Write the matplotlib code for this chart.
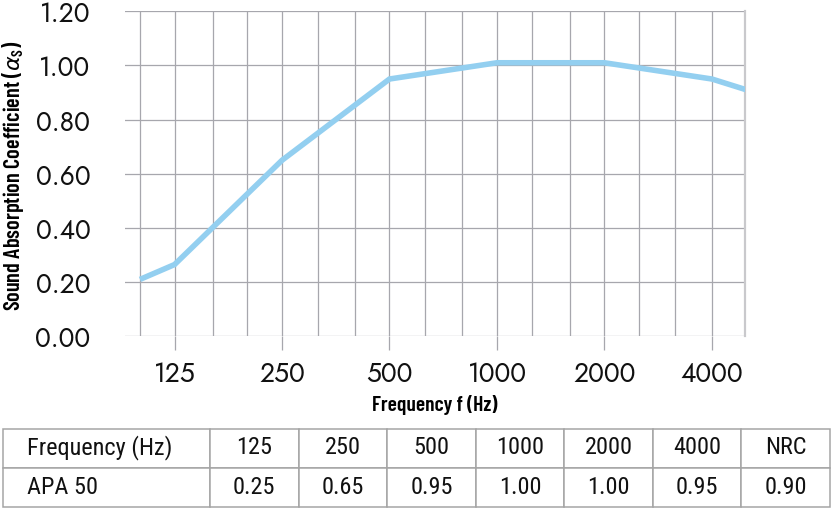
import matplotlib
matplotlib.use("Agg")
import matplotlib.pyplot as plt
from matplotlib.ticker import FixedLocator, NullFormatter
import logging
logging.getLogger("matplotlib.font_manager").setLevel(logging.ERROR)

# ---- data ----
freqs = [100, 125, 250, 500, 1000, 2000, 4000, 5000]
alpha = [0.21, 0.265, 0.65, 0.95, 1.01, 1.01, 0.95, 0.91]
major_ticks = [125, 250, 500, 1000, 2000, 4000]
minor_ticks = [100, 160, 200, 315, 400, 630, 800, 1250, 1600, 2500, 3150]
y_ticks = [0.0, 0.2, 0.4, 0.6, 0.8, 1.0, 1.2]

table_header = ["Frequency (Hz)", "125", "250", "500", "1000", "2000", "4000", "NRC"]
table_row = ["APA 50", "0.25", "0.65", "0.95", "1.00", "1.00", "0.95", "0.90"]

W, H = 831, 509
fig = plt.figure(figsize=(W / 100, H / 100), dpi=100)

ax = fig.add_axes([125 / W, 1 - 336.3 / H, (745 - 125) / W, (336.3 - 11.3) / H])
ax.set_xscale("log")
ax.set_xlim(90.8, 4952)
ax.set_ylim(0, 1.2)

grid_c = "#a7a7ad"
ax.xaxis.set_major_locator(FixedLocator(major_ticks))
ax.xaxis.set_minor_locator(FixedLocator(minor_ticks))
ax.xaxis.set_minor_formatter(NullFormatter())
ax.set_xticklabels([str(t) for t in major_ticks])
ax.set_yticks(y_ticks)
ax.set_yticklabels([f"{v:.2f}" for v in y_ticks])
ax.grid(True, which="both", color=grid_c, linewidth=0.9)
ax.set_axisbelow(True)

for s in ["left", "top", "bottom"]:
    ax.spines[s].set_visible(False)
ax.spines["right"].set_color("#c9c9cc")
ax.spines["right"].set_linewidth(1.6)

tick_font = ["Jost", "Lato"]
ax.tick_params(axis="x", which="major", length=10, width=0.9, color=grid_c,
               pad=7, labelsize=19, direction="out")
ax.tick_params(axis="x", which="minor", length=0)
ax.tick_params(axis="y", length=0, pad=25, labelsize=19)
for lab in ax.get_xticklabels() + ax.get_yticklabels():
    lab.set_fontfamily(tick_font)
    lab.set_color("#111111")

ax.plot(freqs, alpha, color="#93cff0", linewidth=4.0, solid_capstyle="butt",
        solid_joinstyle="miter", zorder=3)

lab_font = ["Barlow Condensed", "DejaVu Sans"]
ax.set_xlabel("Frequency f (Hz)", fontsize=15.5, fontweight=600,
              family=lab_font, labelpad=5)
fig.text(13 / W, 1 - 176 / H, "Sound Absorption Coefficient ($\\alpha_\\mathregular{S}$)",
         rotation=90, ha="center", va="center", fontsize=16, fontweight=600,
         family=lab_font)

# ---- table ----
tax = fig.add_axes([3 / W, 1 - 506.5 / H, (830 - 3) / W, (506.5 - 428.5) / H])
tax.axis("off")
first_w = 207.0
other_w = 88.6
total = first_w + 7 * other_w
col_widths = [first_w / total] + [other_w / total] * 7
tbl = tax.table(cellText=[table_header, table_row], colWidths=col_widths,
                bbox=[0, 0, 1, 1], cellLoc="center")
tbl.auto_set_font_size(False)
for (r, c), cell in tbl.get_celld().items():
    cell.set_edgecolor("#a5a5a5")
    cell.set_linewidth(1.1)
    cell.get_text().set_fontsize(17.5)
    cell.get_text().set_fontfamily(["Roboto Condensed", "Barlow Condensed", "Roboto"])
    cell.get_text().set_color("#111111")
    if c == 0:
        cell._loc = "left"
        cell.PAD = 24 / first_w
        cell.get_text().set_ha("left")

fig.savefig("out.png", dpi=100)
